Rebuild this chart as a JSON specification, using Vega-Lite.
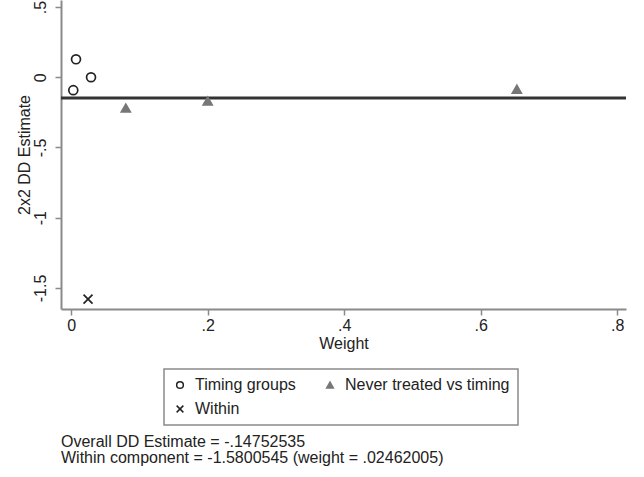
{
  "$schema": "https://vega.github.io/schema/vega-lite/v6.json",
  "width": 565,
  "height": 309,
  "autosize": {"type": "none"},
  "padding": {"left": 61, "top": 0, "right": 18, "bottom": 168},
  "background": "white",
  "config": {
    "view": {"stroke": null},
    "font": "Liberation Sans",
    "axis": {
      "grid": false,
      "domainColor": "#8a8a8a",
      "domainWidth": 2,
      "tickColor": "#8a8a8a",
      "tickWidth": 1.5,
      "tickSize": 6,
      "labelFont": "Liberation Sans",
      "labelFontSize": 16,
      "labelColor": "#222",
      "titleFont": "Liberation Sans",
      "titleFontSize": 16,
      "titleFontWeight": "normal",
      "titleColor": "#222"
    },
    "legend": {
      "labelFont": "Liberation Sans",
      "labelFontSize": 16,
      "labelColor": "#222",
      "labelLimit": 400,
      "strokeColor": "#8a8a8a",
      "strokeWidth": 1.5,
      "padding": 8,
      "rowPadding": 8,
      "columnPadding": 26,
      "labelOffset": 7,
      "symbolSize": 45,
      "symbolStrokeWidth": 1.5
    }
  },
  "title": {
    "text": ["Overall DD Estimate = -.14752535", "Within component = -1.5800545 (weight = .02462005)"],
    "orient": "bottom",
    "anchor": "start",
    "frame": "group",
    "font": "Liberation Sans",
    "fontSize": 16,
    "fontWeight": "normal",
    "color": "#222",
    "lineHeight": 16,
    "offset": 8
  },
  "layer": [
    {
      "data": {"values": [{"overall": -0.14752535}]},
      "mark": {"type": "rule", "color": "#333", "strokeWidth": 3},
      "encoding": {
        "y": {"field": "overall", "type": "quantitative", "scale": {"domain": [-1.65, 0.55], "nice": false, "zero": false}}
      }
    },
    {
      "data": {
        "values": [
          {"weight": 0.007, "estimate": 0.128, "group": "Timing groups"},
          {"weight": 0.003, "estimate": -0.092, "group": "Timing groups"},
          {"weight": 0.029, "estimate": 0.0, "group": "Timing groups"},
          {"weight": 0.080, "estimate": -0.22, "group": "Never treated vs timing"},
          {"weight": 0.200, "estimate": -0.17, "group": "Never treated vs timing"},
          {"weight": 0.653, "estimate": -0.085, "group": "Never treated vs timing"},
          {"weight": 0.02462005, "estimate": -1.5800545, "group": "Within"}
        ]
      },
      "mark": {"type": "point", "size": 80, "strokeWidth": 1.7, "opacity": 1},
      "encoding": {
        "x": {
          "field": "weight", "type": "quantitative",
          "scale": {"domain": [-0.015, 0.813], "nice": false, "zero": false},
          "axis": {"title": "Weight", "values": [0, 0.2, 0.4, 0.6, 0.8], "labelPadding": 2, "titlePadding": 2,
                   "labelExpr": "replace(toString(datum.value), '0.', '.')"}
        },
        "y": {
          "field": "estimate", "type": "quantitative",
          "scale": {"domain": [-1.65, 0.55], "nice": false, "zero": false},
          "axis": {"title": "2x2 DD Estimate", "values": [-1.5, -1, -0.5, 0, 0.5], "labelAngle": -90, "labelAlign": "center", "labelBaseline": "bottom", "labelPadding": 7, "titlePadding": 0,
                   "labelExpr": "replace(toString(datum.value), '0.', '.')"}
        },
        "shape": {
          "field": "group", "type": "nominal",
          "scale": {"domain": ["Timing groups", "Never treated vs timing", "Within"], "range": ["circle", "triangle-up", "M-1,-1L1,1M-1,1L1,-1"]},
          "legend": {"title": null, "orient": "none", "legendX": 103, "legendY": 369, "direction": "horizontal", "columns": 2}
        },
        "fill": {
          "field": "group", "type": "nominal",
          "scale": {"domain": ["Timing groups", "Never treated vs timing", "Within"], "range": ["transparent", "#777777", "transparent"]}
        },
        "stroke": {
          "field": "group", "type": "nominal",
          "scale": {"domain": ["Timing groups", "Never treated vs timing", "Within"], "range": ["#222222", "#777777", "#222222"]}
        }
      }
    }
  ]
}
